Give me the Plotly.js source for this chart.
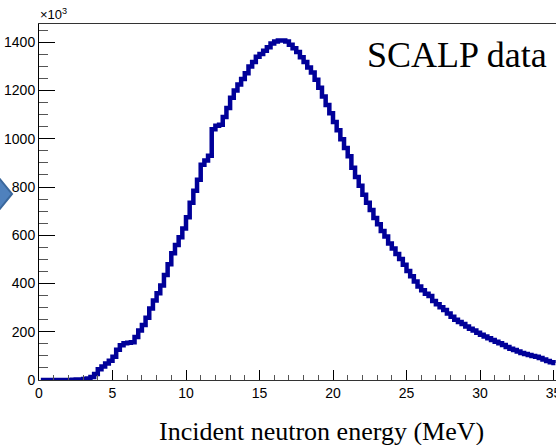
<!DOCTYPE html>
<html>
<head>
<meta charset="utf-8">
<script src="https://cdn.plot.ly/plotly-3.0.1.min.js"></script>
<style>html,body{margin:0;padding:0;background:#fff;}#chart{width:556px;height:445px;}</style>
</head>
<body>
<div id="chart"></div>
<script>
// Bin centres (MeV), 0.25 MeV bins
const binWidth = 0.25;
const counts = [
  0,0,0,0,0,0,0,0,0,1,
  2,2,4,6,12,25,45,56,68,80,
  96,125,144,152,154,156,178,205,228,258,
  296,330,360,392,435,480,525,560,592,628,
  675,735,785,830,892,910,930,1040,1054,1058,
  1090,1128,1170,1200,1225,1248,1272,1300,1318,1340,
  1352,1365,1380,1395,1403,1408,1408,1403,1390,1375,
  1360,1338,1318,1296,1275,1245,1212,1175,1140,1106,
  1070,1035,998,962,928,880,842,805,768,735,
  705,672,646,618,595,566,545,522,502,478,
  452,430,408,388,372,358,348,328,314,302,
  290,276,262,250,240,232,222,213,205,196,
  188,180,173,166,159,152,145,137,130,124,
  118,112,108,104,100,96,91,85,79,74,
  70
];
const energies = counts.map((_, i) => (i + 0.5) * binWidth);
const xTickVals = [0, 5, 10, 15, 20, 25, 30, 35];
const yTickVals = [0, 200, 400, 600, 800, 1000, 1200, 1400];

const trace = {
  x: energies,
  y: counts,
  type: 'scatter',
  mode: 'lines',
  line: {shape: 'hvh', color: '#000099', width: 4.5},
  hoverinfo: 'skip'
};

const layout = {
  width: 556, height: 445,
  margin: {l: 39, r: 0, t: 24, b: 65},
  paper_bgcolor: '#ffffff', plot_bgcolor: '#ffffff',
  showlegend: false,
  font: {family: 'Liberation Sans, Arial, sans-serif', color: '#000'},
  xaxis: {
    range: [0, 35.17],
    tickvals: xTickVals, ticktext: xTickVals.map(String),
    ticks: 'inside', ticklen: 10, tickwidth: 1, tickcolor: '#000',
    minor: {dtick: 1, ticks: 'inside', ticklen: 5, tickcolor: '#555', tickwidth: 1},
    showline: true, linecolor: '#333', linewidth: 1, mirror: true,
    showgrid: false, zeroline: false,
    ticklabeloverflow: 'allow',
    tickfont: {size: 14, family: 'Liberation Sans, Arial, sans-serif', color: '#000'}
  },
  yaxis: {
    range: [0, 1476],
    tickvals: yTickVals, ticktext: yTickVals.map(String),
    ticks: 'inside', ticklen: 16, tickwidth: 1, tickcolor: '#000',
    minor: {dtick: 50, ticks: 'inside', ticklen: 9, tickcolor: '#555', tickwidth: 1},
    showline: true, linecolor: '#000', linewidth: 1, mirror: false,
    showgrid: false, zeroline: false,
    ticklabeloverflow: 'allow',
    tickfont: {size: 14, family: 'Liberation Sans, Arial, sans-serif', color: '#000'}
  },
  annotations: [
    {text: '×10<sup>3</sup>', xref: 'paper', yref: 'paper', x: -0.002, y: 1, xanchor: 'left', yanchor: 'bottom',
     showarrow: false, font: {size: 13, family: 'Liberation Sans, Arial, sans-serif', color: '#000'}},
    {text: 'SCALP data', xref: 'paper', yref: 'paper', x: 0.808, y: 0.913, xanchor: 'center', yanchor: 'middle',
     showarrow: false, font: {size: 36, family: 'Liberation Serif, Times New Roman, serif', color: '#000'}},
    {text: 'Incident neutron energy (MeV)', xref: 'paper', yref: 'paper', x: 0.547, y: -0.146, xanchor: 'center', yanchor: 'middle',
     showarrow: false, font: {size: 26, family: 'Liberation Serif, Times New Roman, serif', color: '#000'}}
  ],
  shapes: [
    {type: 'path', xref: 'paper', yref: 'paper',
     path: 'M -0.09,0.59 L -0.0522,0.5225 L -0.09,0.455 Z',
     fillcolor: '#4f81bd', line: {color: '#3a679c', width: 2}, layer: 'above'}
  ]
};

Plotly.newPlot('chart', [trace], layout, {displayModeBar: false, staticPlot: true});
</script>
</body>
</html>
